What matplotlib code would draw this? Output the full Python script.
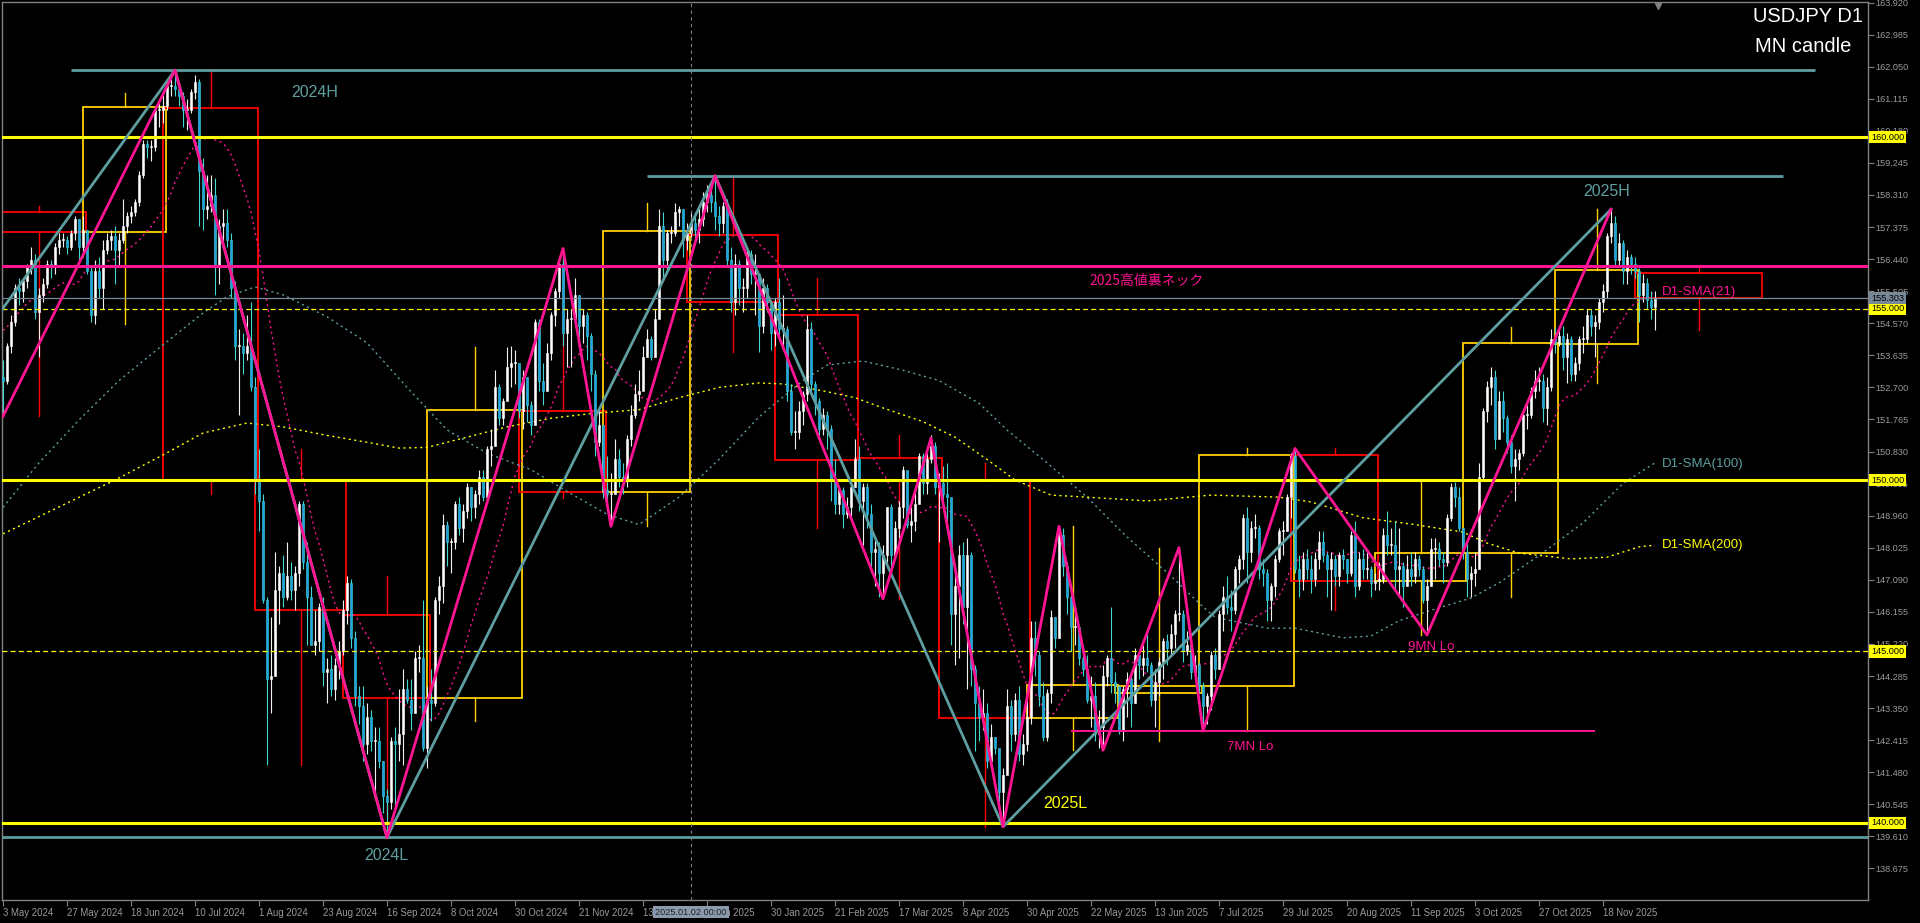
import numpy as np
import pandas as pd
import matplotlib
matplotlib.use('Agg')
import matplotlib.pyplot as plt
from matplotlib import font_manager as fm
from matplotlib.patches import Rectangle
from matplotlib.transforms import blended_transform_factory

# ---------------- data ----------------
first_date = '2024-05-03'
first_open = 153.0

# closes of the 20 bars before the chart, only used for the SMA(21)
pre_closes = [151.6, 151.9, 151.8, 153.2, 153.3, 153.3, 154.2, 154.7, 154.4, 154.6,
              154.6, 154.8, 154.8, 155.3, 155.6, 158.3, 156.4, 157.8, 155.0, 153.0]

# daily closes (open of a bar = close of the bar before)
closes = [
    # May 2024
    152.9, 153.9, 154.6, 155.6, 155.5, 155.8, 156.2, 156.4, 154.9, 155.4, 155.7, 156.3, 156.2, 156.8, 157.0, 157.0, 156.8, 157.2, 157.6, 156.8, 157.3,
    # Jun 2024
    156.1, 154.8, 156.1, 155.6, 156.7, 157.0, 157.1, 156.7, 157.0, 157.4, 157.7, 157.8, 158.1, 158.9, 159.8, 159.7, 159.7, 160.8, 160.8, 160.9,
    # Jul 2024
    161.5, 161.5, 161.4, 161.2, 160.8, 160.8, 161.3, 161.6, 159.0, 157.9, 158.0, 158.3, 156.2, 157.4, 157.5, 157.0, 155.6, 153.9, 153.9, 153.7, 153.9, 152.7, 150.0,
    # Aug 2024
    149.4, 146.5, 144.2, 144.3, 146.8, 147.3, 146.6, 147.2, 146.8, 147.3, 149.3, 147.6, 146.6, 145.2, 145.3, 146.3, 144.4, 144.5, 143.9, 144.6, 145.0, 146.2,
    # Sep 2024
    147.0, 145.4, 143.7, 143.4, 142.3, 143.1, 142.4, 142.4, 141.8, 140.8, 140.6, 142.4, 142.3, 142.6, 143.9, 143.6, 143.2, 144.8, 144.8, 142.2, 143.6,
    # Oct 2024
    143.5, 146.5, 146.9, 148.7, 148.2, 148.2, 149.3, 148.6, 149.1, 149.8, 149.2, 149.6, 150.1, 149.5, 150.9, 151.0, 152.7, 151.8, 152.3, 153.3, 153.4, 153.4, 152.0,
    # Nov 2024
    153.0, 152.2, 151.6, 154.6, 152.9, 152.6, 153.7, 154.8, 155.5, 156.3, 154.3, 154.7, 154.7, 155.4, 154.5, 154.8, 154.2, 153.1, 151.1, 151.6, 149.7,
    # Dec 2024
    149.6, 149.6, 150.6, 150.1, 150.0, 151.2, 151.9, 152.5, 152.6, 153.6, 154.1, 153.6, 154.7, 157.4, 156.4, 157.2, 157.2, 157.8, 157.9, 157.0, 157.2,
    # Jan 2025
    157.5, 157.3, 157.6, 158.1, 158.3, 158.1, 157.7, 157.5, 158.0, 156.4, 155.2, 156.3, 155.6, 155.6, 156.6, 156.0, 156.0, 154.5, 155.6, 155.2, 154.3, 155.2,
    # Feb 2025
    154.4, 154.4, 152.6, 151.4, 151.4, 152.0, 152.5, 154.4, 152.8, 152.3, 151.5, 151.9, 151.5, 150.0, 149.3, 149.7, 149.0, 149.2, 149.8, 150.6,
    # Mar 2025
    149.4, 149.8, 149.0, 147.9, 148.0, 147.3, 147.8, 149.2, 147.8, 148.6, 149.2, 150.3, 148.7, 148.8, 149.3, 150.7, 149.9, 150.6, 151.0, 149.8, 149.9,
    # Apr 2025
    149.6, 149.5, 146.1, 146.9, 147.8, 146.3, 147.8, 144.5, 143.5, 143.1, 143.2, 141.8, 142.5, 142.2, 140.9, 141.4, 143.4, 142.6, 143.6, 142.0, 142.3, 143.1,
    # May 2025
    145.4, 144.9, 143.7, 142.5, 143.8, 146.0, 145.4, 148.4, 147.5, 146.6, 145.7, 145.7, 144.8, 144.5, 143.6, 143.7, 142.6, 142.8, 144.3, 144.8, 144.1, 144.0,
    # Jun 2025
    142.7, 143.9, 144.2, 143.5, 144.9, 144.6, 144.8, 144.6, 143.6, 144.1, 144.7, 145.3, 145.1, 145.5, 146.1, 146.1, 145.0, 145.2, 144.4, 144.6, 144.0,
    # Jul 2025
    143.4, 143.7, 144.9, 144.5, 146.1, 146.6, 146.3, 146.2, 147.4, 147.7, 148.9, 147.9, 148.6, 148.6, 147.4, 147.3, 146.5, 146.9, 147.7, 148.5, 148.5, 149.5, 150.7,
    # Aug 2025
    147.4, 147.1, 147.7, 147.4, 147.1, 147.7, 148.2, 147.8, 147.4, 147.7, 147.2, 147.8, 147.7, 147.3, 148.4, 146.9, 147.7, 147.4, 147.4, 147.0, 147.06,
    # Sep 2025
    147.1, 148.4, 148.1, 148.1, 147.4, 147.5, 146.9, 147.4, 147.2, 147.7, 147.4, 146.5, 146.9, 148.0, 148.0, 147.7, 147.6, 148.9, 149.8, 149.5, 148.6, 147.9,
    # Oct 2025
    147.1, 147.3, 147.4, 150.1, 152.0, 152.7, 153.0, 151.2, 152.3, 151.8, 151.1, 150.4, 150.6, 150.8, 151.9, 151.9, 152.6, 152.9, 152.9, 152.1, 152.7, 154.1, 154.0,
    # Nov 2025
    154.2, 153.6, 154.1, 153.1, 153.4, 154.1, 154.1, 154.8, 154.5, 154.6, 155.2, 155.5, 157.1, 157.5, 156.4, 156.9, 156.1, 156.5, 156.3, 156.1,
    # Dec 2025
    155.4, 155.75, 155.25, 155.05, 155.303,
]

highs = [
    153.5, 154.0, 154.8, 155.7, 155.9, 155.9, 156.3, 156.8, 156.6, 155.6, 155.9, 156.4, 156.4, 156.9, 157.2, 157.2, 157.1, 157.3, 157.7, 157.6, 157.7,
    157.3, 156.2, 156.4, 156.5, 157.0, 157.2, 157.3, 157.4, 157.2, 158.2, 157.8, 158.0, 158.2, 159.0, 159.9, 159.9, 159.9, 160.9, 161.0, 161.3,
    161.7, 161.7, 161.95, 161.4, 161.3, 161.1, 161.4, 161.8, 161.7, 159.4, 158.9, 158.9, 158.8, 157.6, 157.9, 157.9, 157.2, 155.8, 154.4, 154.3, 154.8, 155.2, 153.0,
    150.9, 149.6, 146.6, 146.0, 147.9, 147.5, 147.8, 148.2, 147.6, 147.5, 149.4, 149.4, 148.2, 146.9, 146.2, 146.4, 146.6, 144.8, 144.9, 144.8, 145.3, 146.5,
    147.2, 147.1, 145.6, 144.0, 144.0, 143.5, 143.3, 142.8, 142.8, 141.8, 141.0, 142.5, 142.8, 143.9, 144.5, 144.2, 144.2, 145.0, 145.2, 146.5, 144.0,
    144.5, 146.6, 147.2, 149.0, 148.8, 148.3, 149.4, 149.5, 149.3, 149.9, 149.8, 149.7, 150.3, 150.3, 151.0, 151.5, 153.2, 152.8, 152.4, 153.88, 153.9, 153.8, 153.3,
    153.2, 152.7, 152.3, 154.7, 154.7, 153.4, 154.0, 154.9, 155.6, 156.4, 156.75, 155.0, 155.0, 155.9, 155.3, 155.0, 154.9, 154.3, 153.2, 152.0, 151.6,
    150.7, 150.2, 151.2, 150.9, 150.5, 151.3, 152.2, 152.8, 153.2, 153.9, 154.4, 154.2, 155.0, 157.9, 157.8, 157.3, 157.4, 158.08, 158.0, 157.9, 157.5,
    157.8, 157.8, 158.0, 158.4, 158.6, 158.5, 158.87, 158.0, 158.1, 158.2, 156.8, 156.6, 156.4, 155.9, 156.7, 156.7, 156.6, 156.0, 155.9, 155.7, 155.2, 155.3,
    155.88, 155.4, 154.5, 152.8, 152.0, 152.3, 152.6, 154.8, 154.6, 152.9, 152.4, 152.1, 152.0, 151.6, 150.6, 149.8, 149.8, 149.5, 150.0, 151.2,
    151.0, 149.9, 149.9, 149.3, 148.3, 148.2, 148.1, 149.2, 149.3, 148.8, 149.4, 150.4, 150.1, 149.2, 149.7, 150.8, 150.8, 150.8, 151.3, 151.1, 150.2,
    150.4, 150.5, 149.3, 147.4, 148.1, 148.2, 148.3, 147.9, 144.6, 144.0, 143.9, 143.5, 142.9, 142.5, 142.0, 141.6, 143.9, 143.6, 143.8, 144.0, 142.6, 143.7,
    145.9, 145.9, 145.0, 144.1, 143.9, 146.2, 146.0, 148.65, 148.6, 147.6, 146.9, 146.2, 145.7, 145.2, 144.9, 144.3, 144.1, 143.3, 144.6, 144.9, 146.3, 144.4,
    144.0, 144.0, 144.4, 144.3, 145.1, 145.0, 145.2, 145.5, 144.7, 144.5, 144.8, 145.4, 145.5, 145.8, 146.2, 148.03, 146.2, 145.6, 145.3, 144.9, 144.7,
    144.1, 143.8, 145.0, 145.1, 146.2, 146.9, 147.2, 146.8, 147.5, 147.8, 149.0, 149.2, 148.8, 149.0, 148.7, 147.7, 147.4, 147.0, 147.8, 148.6, 148.8, 149.6, 150.8,
    150.92, 147.8, 147.9, 148.0, 147.8, 147.9, 148.5, 148.5, 147.9, 147.9, 147.8, 147.9, 148.0, 147.7, 148.5, 148.8, 147.9, 148.0, 148.0, 147.5, 147.3,
    147.6, 148.6, 149.1, 148.6, 148.8, 148.6, 147.6, 147.8, 147.9, 147.9, 147.8, 147.5, 147.1, 148.3, 148.3, 148.2, 147.9, 149.0, 149.9, 149.95, 149.8, 148.6,
    148.2, 147.5, 147.9, 150.5, 152.1, 152.9, 153.3, 153.2, 152.6, 152.6, 151.9, 151.3, 150.9, 150.9, 152.0, 152.2, 152.7, 153.2, 153.3, 153.1, 153.0, 154.4, 154.47,
    154.5, 154.5, 154.3, 154.2, 153.6, 154.2, 154.5, 155.0, 155.0, 154.8, 155.3, 155.7, 157.2, 157.89, 157.7, 157.2, 157.0, 156.7, 156.6, 156.5,
    156.18, 156.0, 155.9, 155.5, 155.5,
]

lows = [
    151.86, 152.8, 153.7, 154.5, 155.1, 155.2, 155.6, 156.0, 154.7, 153.6, 155.2, 155.6, 155.9, 156.0, 156.6, 156.8, 156.6, 156.7, 157.0, 156.4, 156.5,
    156.0, 154.6, 154.55, 155.3, 155.0, 156.6, 156.7, 155.7, 156.2, 156.9, 157.2, 157.5, 157.7, 158.0, 158.8, 159.4, 159.3, 159.6, 160.3, 160.4,
    160.8, 161.2, 161.2, 160.9, 160.3, 160.2, 160.7, 161.1, 157.4, 157.3, 157.6, 157.8, 155.4, 155.7, 156.9, 156.8, 155.3, 153.5, 151.9, 153.1, 153.5, 152.6, 149.6,
    148.5, 146.4, 141.68, 143.2, 144.3, 145.8, 146.3, 146.5, 146.5, 146.2, 146.9, 147.4, 145.2, 145.2, 144.9, 145.0, 144.0, 143.5, 143.7, 143.6, 144.2, 144.9,
    145.8, 145.1, 143.4, 142.9, 141.8, 142.0, 142.1, 140.7, 141.6, 140.3, 139.58, 140.4, 140.5, 141.8, 141.7, 143.5, 142.7, 143.2, 144.4, 142.1, 141.6,
    142.97, 143.4, 146.1, 146.4, 147.5, 147.3, 148.0, 148.4, 148.2, 148.9, 148.8, 148.9, 149.3, 149.4, 149.4, 150.4, 151.0, 151.6, 151.6, 152.8, 152.7, 152.8, 151.8,
    151.5, 151.7, 151.3, 151.6, 152.6, 152.2, 152.7, 153.5, 154.5, 155.3, 153.9, 153.3, 153.3, 154.5, 153.9, 154.0, 153.5, 152.6, 150.7, 151.0, 149.47,
    149.3, 148.65, 149.6, 149.8, 149.6, 149.8, 151.0, 151.8, 152.3, 152.8, 153.6, 153.5, 153.6, 154.9, 155.8, 156.1, 156.9, 157.1, 157.4, 156.5, 156.7,
    157.0, 156.9, 156.9, 157.4, 157.8, 157.8, 157.3, 157.1, 157.2, 156.2, 154.9, 154.8, 155.1, 154.9, 155.3, 155.7, 154.8, 153.72, 154.3, 154.9, 153.8, 153.9,
    154.1, 153.8, 152.3, 151.3, 150.9, 151.2, 151.6, 152.3, 152.5, 151.9, 151.3, 151.3, 150.9, 149.4, 149.0, 149.0, 148.6, 148.9, 148.9, 149.8,
    149.1, 148.1, 148.6, 147.3, 146.9, 146.6, 146.54, 147.6, 147.4, 147.8, 148.3, 148.9, 148.6, 148.2, 148.5, 149.4, 149.6, 149.6, 150.5, 149.6, 148.2,
    149.2, 148.8, 145.2, 144.6, 144.8, 145.8, 143.9, 144.0, 142.1, 142.4, 142.7, 141.6, 141.6, 142.0, 140.6, 139.89, 141.5, 142.1, 142.4, 141.8, 141.7, 142.1,
    142.9, 144.3, 143.4, 142.4, 142.4, 143.5, 145.1, 145.4, 147.2, 146.1, 145.0, 145.2, 144.6, 144.3, 143.5, 142.8, 142.4, 142.2, 142.12, 144.0, 143.8, 143.5,
    142.6, 142.4, 143.1, 142.8, 143.5, 144.2, 144.3, 144.4, 143.4, 142.8, 143.7, 144.2, 144.6, 144.9, 145.1, 145.9, 144.7, 144.9, 144.2, 144.2, 143.8,
    142.68, 142.9, 143.3, 144.2, 144.5, 145.6, 146.1, 145.6, 146.1, 147.0, 147.4, 147.0, 147.6, 148.3, 147.1, 146.9, 145.9, 145.9, 146.6, 147.6, 147.8, 148.5, 148.9,
    147.3, 146.6, 146.8, 147.1, 146.7, 146.9, 147.4, 147.6, 146.6, 146.2, 146.9, 146.9, 147.4, 147.0, 147.2, 146.6, 146.8, 147.1, 147.1, 146.6, 146.8,
    146.8, 147.0, 147.8, 147.8, 146.8, 146.6, 146.3, 146.9, 146.9, 147.0, 147.2, 146.4, 145.48, 146.9, 147.1, 147.5, 147.0, 147.5, 148.8, 149.2, 148.5, 147.7,
    146.6, 146.59, 146.9, 148.8, 150.0, 151.7, 152.2, 150.9, 151.6, 151.4, 150.8, 150.2, 149.4, 150.3, 150.7, 151.5, 151.8, 152.4, 152.6, 151.7, 151.6, 152.6, 153.7,
    153.9, 153.2, 152.83, 152.9, 152.9, 153.2, 153.7, 154.0, 154.2, 153.6, 154.4, 154.9, 155.3, 156.9, 156.2, 156.2, 155.7, 155.7, 156.0, 155.9,
    154.6, 155.2, 155.0, 154.7, 154.37,
]

# monthly candles ("MN candle"), May 2024 .. Dec 2025
mn_first = '2024-05'
mn_open = [157.8, 157.24, 160.85, 149.98, 146.05, 143.64, 152.0, 149.65, 157.15, 154.8,
           150.64, 149.97, 143.06, 143.8, 144.0, 150.73, 147.06, 147.87, 153.96, 156.04]
mn_high = [158.0, 161.28, 161.95, 150.9, 147.2, 153.88, 156.75, 158.08, 158.87, 155.9,
           151.3, 150.5, 148.65, 148.03, 150.92, 150.93, 149.95, 154.47, 157.89, 156.18]
mn_low = [151.86, 154.55, 149.6, 141.68, 139.58, 142.97, 149.47, 148.65, 153.72, 148.6,
          146.54, 139.89, 142.12, 142.4, 142.68, 146.2, 145.48, 146.59, 152.83, 154.37]
mn_close = [157.23, 160.88, 149.98, 146.2, 143.64, 152.03, 149.65, 157.25, 155.18, 150.58,
            149.97, 143.06, 144.03, 144.0, 150.73, 147.06, 147.87, 153.98, 156.12, 155.303]

# moving averages (bar number, value)
sma100_bars = [0, 9, 19, 29, 40, 50, 56, 63, 70, 81, 91, 101, 111, 121, 132, 142, 151, 159, 169, 179,
               189, 200, 206, 215, 225, 234, 244, 251, 261, 271, 281, 292, 300, 303, 316, 323, 335, 342,
               349, 357, 367, 374, 384, 395, 405, 413]
sma100_vals = [149.2, 150.5, 151.75, 152.9, 153.94, 154.87, 155.34, 155.63, 155.4, 154.76, 154.0, 152.7,
               151.46, 150.78, 150.3, 149.6, 149.0, 148.7, 149.5, 150.6, 151.84, 152.9, 153.35, 153.47,
               153.2, 152.9, 152.24, 151.46, 150.5, 149.5, 148.34, 147.2, 146.3, 146.0, 145.68, 145.68,
               145.4, 145.45, 145.9, 146.2, 146.56, 147.0, 147.8, 148.75, 149.9, 150.5]
sma200_bars = [0, 28, 40, 50, 61, 70, 81, 91, 99, 106, 116, 126, 137, 148, 159, 169, 179, 189, 195, 205,
               213, 220, 230, 238, 246, 253, 262, 271, 286, 302, 319, 327, 340, 353, 365, 371, 379, 392,
               401, 409, 413]
sma200_vals = [148.43, 150.0, 150.73, 151.37, 151.66, 151.55, 151.3, 151.1, 150.93, 150.95, 151.25, 151.55,
               151.8, 151.95, 152.05, 152.4, 152.7, 152.83, 152.8, 152.6, 152.4, 152.1, 151.7, 151.25,
               150.6, 150.0, 149.56, 149.5, 149.39, 149.56, 149.5, 149.36, 148.9, 148.7, 148.48, 148.16,
               147.87, 147.7, 147.75, 148.05, 148.1]

# zigzags (pivot dates and prices)
teal_dates = ['2024-01-02', '2024-07-03', '2024-09-16', '2025-01-10', '2025-04-22', '2025-11-20']
teal_prices = [140.81, 161.95, 139.58, 158.87, 139.89, 157.89]
pink_dates = ['2024-05-03', '2024-07-03', '2024-09-16', '2024-11-15', '2024-12-03', '2025-01-10',
              '2025-03-11', '2025-03-27', '2025-04-22', '2025-05-12', '2025-05-27', '2025-06-23',
              '2025-07-01', '2025-08-01', '2025-09-17', '2025-11-20']
pink_prices = [151.86, 161.95, 139.58, 156.75, 148.65, 158.87, 146.54, 151.22, 139.89, 148.65,
               142.12, 148.03, 142.68, 150.92, 145.48, 157.89]

# horizontal levels
yellow_levels = [160.0, 150.0, 140.0]
yellow_dashed = [155.0, 145.0]
neck_level = 156.25
bid = 155.303
teal_segments = [(161.95, 17, 453), (158.87, 161, 445)]
low_2024 = 139.58
mn7_low = (142.68, 267, 398)
crosshair_date = '2025-01-02'

# ---------------- layout / style ----------------
BG = '#000000'
GRID = '#808080'
TXT = '#9a9a9a'
YEL = '#ffff00'
GOLD = '#ffd000'
RED = '#ff0000'
PINK = '#ff1493'
TEAL = '#5f9ea0'

names = {f.name for f in fm.fontManager.ttflist}
if 'Liberation Sans Narrow' in names:
    axis_font, axis_size = 'Liberation Sans Narrow', 8
else:
    axis_font, axis_size = 'Liberation Sans', 6.6
plt.rcParams['font.family'] = ['Liberation Sans', 'DejaVu Sans']

cal = pd.bdate_range('2023-12-01', '2026-01-31')
cal = cal[~(((cal.month == 12) & (cal.day == 25)) | ((cal.month == 1) & (cal.day == 1)))]
pos0 = cal.get_loc(pd.Timestamp(first_date))


def bar_of(d):
    return cal.get_loc(pd.Timestamp(d)) - pos0


n = len(closes)
dates = cal[pos0:pos0 + n]
x = np.arange(n)
c = np.array(closes)
h = np.array(highs)
l = np.array(lows)
o = np.r_[first_open, c[:-1]]

W, H = 1920, 923
fig = plt.figure(figsize=(W / 100, H / 100), dpi=100, facecolor=BG)
ax = fig.add_axes([2 / W, (H - 900) / H, 1866 / W, 898 / H], facecolor=BG)
ax.set_xlim(-0.25, 466.25)
ax.set_ylim(137.755, 163.936)

# monthly candles
months = pd.period_range(mn_first, periods=len(mn_open), freq='M')
for i, m in enumerate(months):
    in_m = cal[(cal.year == m.year) & (cal.month == m.month)]
    first = cal.get_loc(in_m[0]) - pos0
    if in_m[-1] > dates[-1]:
        last = first + m.days_in_month - 1   # running month: future counted in days
    else:
        last = cal.get_loc(in_m[-1]) - pos0
    left, right = first - 0.9, last + 0.7
    mo, mc = mn_open[i], mn_close[i]
    col = GOLD if mc >= mo else RED
    lo_b, hi_b = min(mo, mc), max(mo, mc)
    ax.add_patch(Rectangle((left, lo_b), right - left, hi_b - lo_b, fill=False,
                           ec=col, lw=1.3, zorder=2))
    mid = (left + right) / 2
    ax.plot([mid, mid], [hi_b, mn_high[i]], color=col, lw=1.0, zorder=2)
    ax.plot([mid, mid], [lo_b, mn_low[i]], color=col, lw=1.0, zorder=2)

# moving averages
sma21 = pd.Series(pre_closes + closes).rolling(21).mean().values[len(pre_closes):]
ax.plot(x, sma21, color=PINK, lw=1.0, ls=(0, (1.5, 2.5)), zorder=2.5)
ax.plot(sma100_bars, sma100_vals, color=TEAL, lw=1.0, ls=(0, (1.5, 2.5)), zorder=2.5)
ax.plot(sma200_bars, sma200_vals, color=YEL, lw=1.0, ls=(0, (1.5, 2.5)), zorder=2.5)

# daily candles
bull = c >= o
wick_cols = np.where(bull, '#f0f0f0', '#40d8d0')
ax.vlines(x, l, h, colors=wick_cols, lw=0.8, zorder=3)
body_lo = np.minimum(o, c)
body_h = np.maximum(np.abs(c - o), 0.03)
ax.bar(x, body_h, bottom=body_lo, width=0.72,
       color=np.where(bull, '#ffffff', '#1ea0ee'),
       edgecolor=np.where(bull, '#ffffff', '#40d8d0'), linewidth=0.4, zorder=3.1)

# horizontal levels
for p in yellow_levels:
    ax.axhline(p, color=YEL, lw=2.2, zorder=4)
for p in yellow_dashed:
    ax.axhline(p, color=YEL, lw=0.9, ls=(0, (4, 2.5)), zorder=4)
ax.axhline(neck_level, color=PINK, lw=2.2, zorder=4)
ax.axhline(bid, color='#778899', lw=0.9, zorder=4)
ax.axhline(low_2024, color=TEAL, lw=2.0, zorder=4)
for p, x0, x1 in teal_segments:
    ax.hlines(p, x0, x1, color=TEAL, lw=2.0, zorder=4)
ax.hlines(mn7_low[0], mn7_low[1], mn7_low[2], color=PINK, lw=1.4, zorder=4)

# zigzags
ax.plot([bar_of(d) for d in teal_dates], teal_prices, color=TEAL, lw=2.0, zorder=5)
ax.plot([bar_of(d) for d in pink_dates], pink_prices, color=PINK, lw=2.0, zorder=5.1)

# crosshair
xc = bar_of(crosshair_date)
ax.axvline(xc, color=GRID, lw=0.8, ls=(0, (3, 3)), zorder=4)

# labels on the chart
ax.text(78, 161.3, '2024H', color=TEAL, fontsize=11.5, ha='center', va='center', zorder=6)
ax.text(401, 158.4, '2025H', color=TEAL, fontsize=11.5, ha='center', va='center', zorder=6)
ax.text(95.75, 139.04, '2024L', color=TEAL, fontsize=11.5, ha='center', va='center', zorder=6)
ax.text(265.5, 140.58, '2025L', color=YEL, fontsize=11.5, ha='center', va='center', zorder=6)
ax.text(286, 155.8, '2025高値裏ネック', color=PINK, fontsize=10,
        family=['Noto Sans CJK JP', 'DejaVu Sans'], ha='center', va='center', zorder=6)
ax.text(311.75, 142.22, '7MN Lo', color=PINK, fontsize=9.5, ha='center', va='center', zorder=6)
ax.text(357, 145.13, '9MN Lo', color=PINK, fontsize=9.5, ha='center', va='center', zorder=6)
ax.text(414.75, 155.48, 'D1-SMA(21)', color=PINK, fontsize=9.5, ha='left', va='center', zorder=6)
ax.text(414.75, 150.47, 'D1-SMA(100)', color=TEAL, fontsize=9.5, ha='left', va='center', zorder=6)
ax.text(414.75, 148.1, 'D1-SMA(200)', color=YEL, fontsize=9.5, ha='left', va='center', zorder=6)

fig.text(1753 / W, 1 - 17 / H, 'USDJPY D1', color='white', fontsize=14.5, ha='left', va='center')
fig.text(1755 / W, 1 - 47 / H, 'MN candle', color='white', fontsize=14.5, ha='left', va='center')

# axes
for s in ax.spines.values():
    s.set_color(GRID)
    s.set_linewidth(1.0)
ax.yaxis.tick_right()
yt = [163.92 - 0.935 * k for k in range(28)]
ax.set_yticks(yt)
ax.set_yticklabels([f'{v:.3f}' for v in yt], family=axis_font, fontsize=axis_size, color=TXT)
xt = x[::16]
ax.set_xticks(xt)
ax.set_xticklabels([f'{d.day} {d:%b %Y}' for d in dates[::16]], family=axis_font,
                   fontsize=axis_size + 0.3, color=TXT, ha='left')
ax.tick_params(axis='both', direction='out', length=4, width=0.8, color=GRID, pad=1.5)

# price tags on the scale
tr_y = blended_transform_factory(ax.transAxes, ax.transData)
for p, fc in [(160.0, YEL), (155.0, YEL), (150.0, YEL), (145.0, YEL), (140.0, YEL), (bid, '#778899')]:
    ax.text(1.0016, p, f'{p:.3f}', transform=tr_y, ha='left', va='center', family=axis_font,
            fontsize=axis_size, color='black', clip_on=False, zorder=10,
            bbox=dict(boxstyle='square,pad=0.18', fc=fc, ec='none'))

tr_x = blended_transform_factory(ax.transData, ax.transAxes)
ax.text(xc, -0.0134, f'{pd.Timestamp(crosshair_date):%Y.%m.%d} 00:00', transform=tr_x,
        ha='center', va='center', family=axis_font, fontsize=axis_size, color='#202020',
        clip_on=False, zorder=10, bbox=dict(boxstyle='square,pad=0.2', fc='#8a9bb0', ec='none'))
ax.plot([n - 0.25], [0.995], transform=tr_x, marker='v', ms=5, color=GRID, clip_on=False, zorder=10)

fig.savefig('out.png', dpi=100, facecolor=BG)
